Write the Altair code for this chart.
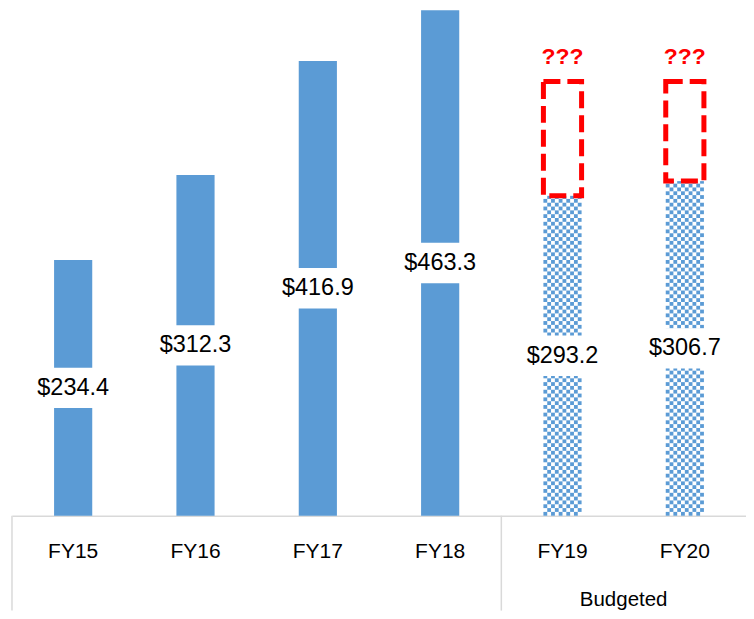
import math
import altair as alt
import pandas as pd

# ---- data ----
years = ["FY15", "FY16", "FY17", "FY18", "FY19", "FY20"]
spending = [234.4, 312.3, 416.9, 463.3, 293.2, 306.7]
is_budgeted = [False, False, False, False, True, True]
unknown_top = [None, None, None, None, 398.0, 398.0]
group_label = ["Budgeted"]
group_edges = ["FY15", "FY19"]

BLUE = "#5B9BD5"
RED = "#FF0000"
GREY = "#D9D9D9"
FONT = "Liberation Sans"

W, H = 735, 508
Y_MAX = 465
BAR_FRAC = 0.312
N_COLS = 10
PAD_COLS = 11
STEP = W / len(years)
CELL_PX = STEP * BAR_FRAC / N_COLS
CELL = CELL_PX / (H / Y_MAX)  # checker cell height in data units

df = pd.DataFrame({"year": years, "value": spending, "budget": is_budgeted,
                   "top": unknown_top})
actual = df[~df["budget"]]
budget = df[df["budget"]]

# checkerboard cells for budgeted bars
cells = []
for y, v in zip(budget["year"], budget["value"]):
    n = math.ceil(v / CELL)
    for r in range(n):
        for c in range(N_COLS):
            if (r + c) % 2 == 0:
                cells.append({"year": y, "col": c, "y0": r * CELL,
                              "y1": min((r + 1) * CELL, v)})
cells = pd.DataFrame(cells)

# offset slots: empty slots either side centre the 10 used columns in the band
n_slots = N_COLS + 2 * PAD_COLS
outer = (STEP / CELL_PX - n_slots) / 2
col_domain = list(range(-PAD_COLS, N_COLS + PAD_COLS))

xscale = alt.Scale(domain=years, paddingInner=0, paddingOuter=0)
yscale = alt.Scale(domain=[0, Y_MAX], nice=False, zero=True)


def X(**kw):
    return alt.X("year:N", scale=xscale, sort=years, **kw)


xaxis = alt.Axis(title=None, labelAngle=0, labelFontSize=21, labelFont=FONT,
                 labelColor="#000000", labelPadding=25, ticks=False,
                 tickSize=0, domainColor=GREY, domainWidth=1.5, grid=False)

bars = alt.Chart(actual).mark_bar(width={"band": BAR_FRAC}, color=BLUE).encode(
    x=X(axis=xaxis),
    y=alt.Y("value:Q", scale=yscale, axis=None),
)

checks = alt.Chart(cells).mark_rect(color=BLUE).encode(
    x=X(axis=xaxis),
    xOffset=alt.XOffset("col:O", scale=alt.Scale(domain=col_domain,
                                                 paddingInner=0,
                                                 paddingOuter=outer)),
    y=alt.Y("y0:Q", scale=yscale, axis=None),
    y2="y1:Q",
)

mid = alt.Chart(df).transform_calculate(
    lo="datum.value/2 - 18.5", hi="datum.value/2 + 18.5",
    m="datum.value/2", label="'$' + format(datum.value, '.1f')")

white = mid.mark_bar(width={"band": 0.5}, color="white").encode(
    x=X(axis=xaxis), y=alt.Y("lo:Q", scale=yscale, axis=None), y2="hi:Q")

labels = mid.mark_text(font=FONT, fontSize=23.5, color="#000000",
                       baseline="middle").encode(
    x=X(axis=xaxis), y=alt.Y("m:Q", scale=yscale, axis=None), text="label:N")

dashed = alt.Chart(budget).mark_bar(
    width={"band": BAR_FRAC}, fill=None, fillOpacity=0, stroke=RED,
    strokeWidth=5, strokeDash=[17, 7]).encode(
    x=X(axis=xaxis), y=alt.Y("value:Q", scale=yscale, axis=None), y2="top:Q")

qmarks = alt.Chart(budget).transform_calculate(q="'???'").mark_text(
    font=FONT, fontSize=23, fontWeight="bold", color=RED, baseline="middle",
    dy=-25).encode(
    x=X(axis=xaxis), y=alt.Y("top:Q", scale=yscale, axis=None), text="q:N")

edges = alt.Chart(pd.DataFrame({"year": group_edges})).mark_rule(
    color=GREY, strokeWidth=1.5).encode(
    x=X(axis=xaxis, bandPosition=0), y=alt.value(H), y2=alt.value(H + 95))

group = alt.Chart(pd.DataFrame({"year": ["FY20"], "t": group_label})).mark_text(
    font=FONT, fontSize=20.5, color="#000000", baseline="middle").encode(
    x=X(axis=xaxis, bandPosition=0), y=alt.value(H + 84), text="t:N")

chart = alt.layer(bars, checks, white, labels, dashed, qmarks, edges, group).properties(
    width=W, height=H, padding={"left": 3, "top": 0, "right": 0, "bottom": 0}
).configure_view(stroke=None)

chart.save("out.html", embed_options={"renderer": "svg", "actions": False})
